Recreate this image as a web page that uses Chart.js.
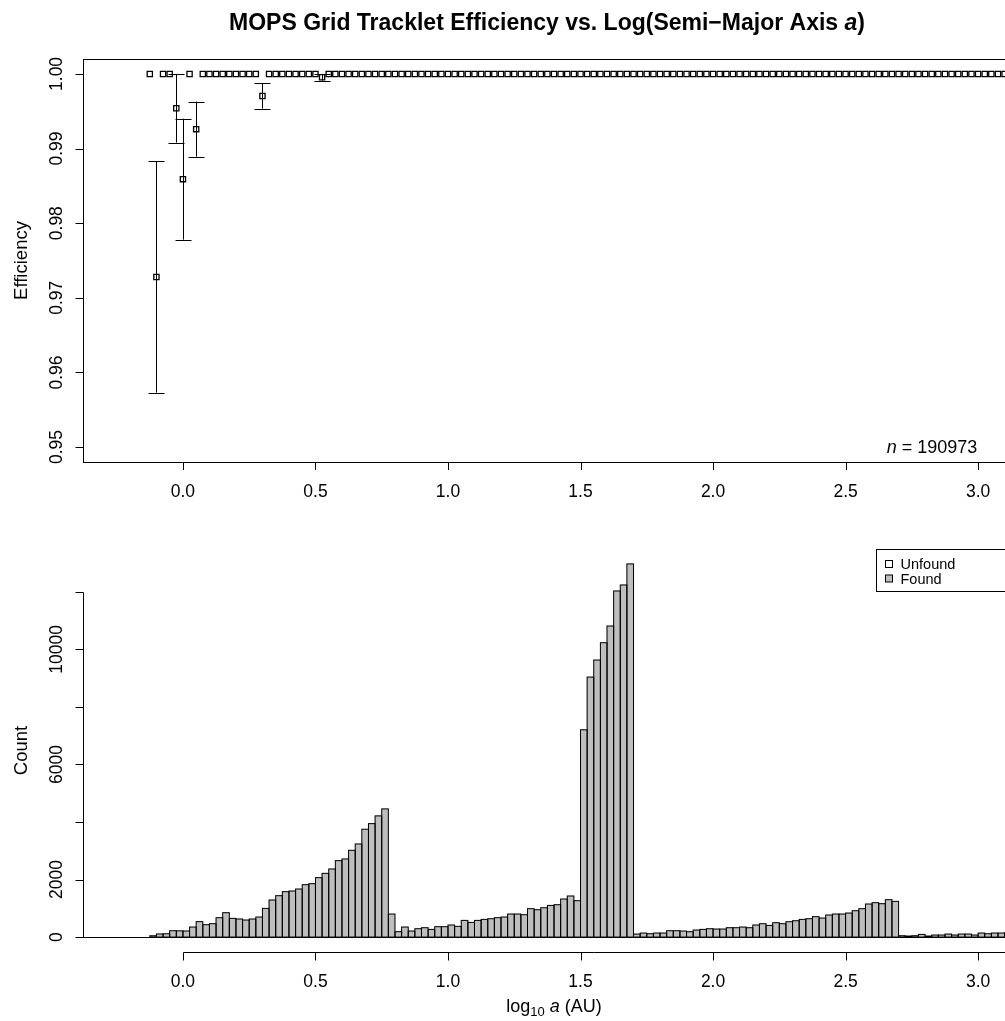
<!DOCTYPE html>
<html>
<head>
<meta charset="utf-8">
<script src="https://cdn.jsdelivr.net/npm/chart.js@4.4.1/dist/chart.umd.min.js"></script>
<style>
    html, body { margin: 0; padding: 0; background: #fff; overflow: hidden; }
    #wrap { position: relative; width: 1005px; height: 1021px; }
    canvas { position: absolute; left: 0; }
</style>
</head>
<body>
<div id="wrap">
    <canvas id="effChart" width="1005" height="520" style="top:0"></canvas>
    <canvas id="histChart" width="1005" height="501" style="top:520px"></canvas>
</div>
<script>
// bin left edges, log10 a (AU)
const binLeft = [
    -0.125, -0.1, -0.075, -0.05, -0.025, 0, 0.025, 0.05, 0.075, 0.1,
    0.125, 0.15, 0.175, 0.2, 0.225, 0.25, 0.275, 0.3, 0.325, 0.35,
    0.375, 0.4, 0.425, 0.45, 0.475, 0.5, 0.525, 0.55, 0.575, 0.6,
    0.625, 0.65, 0.675, 0.7, 0.725, 0.75, 0.775, 0.8, 0.825, 0.85,
    0.875, 0.9, 0.925, 0.95, 0.975, 1.0, 1.025, 1.05, 1.075, 1.1,
    1.125, 1.15, 1.175, 1.2, 1.225, 1.25, 1.275, 1.3, 1.325, 1.35,
    1.375, 1.4, 1.425, 1.45, 1.475, 1.5, 1.525, 1.55, 1.575, 1.6,
    1.625, 1.65, 1.675, 1.7, 1.725, 1.75, 1.775, 1.8, 1.825, 1.85,
    1.875, 1.9, 1.925, 1.95, 1.975, 2.0, 2.025, 2.05, 2.075, 2.1,
    2.125, 2.15, 2.175, 2.2, 2.225, 2.25, 2.275, 2.3, 2.325, 2.35,
    2.375, 2.4, 2.425, 2.45, 2.475, 2.5, 2.525, 2.55, 2.575, 2.6,
    2.625, 2.65, 2.675, 2.7, 2.725, 2.75, 2.775, 2.8, 2.825, 2.85,
    2.875, 2.9, 2.925, 2.95, 2.975, 3.0, 3.025, 3.05, 3.075, 3.1
];
const binWidth = 0.025;

const found = [
    45, 107, 115, 220, 216, 210, 348, 536, 430, 465,
    673, 847, 650, 627, 592, 627, 696, 997, 1288, 1438,
    1578, 1600, 1670, 1821, 1856, 2065, 2215, 2366, 2656, 2714,
    3016, 3236, 3748, 3943, 4211, 4454, 800, 186, 348, 209,
    290, 325, 267, 360, 360, 418, 372, 580, 510, 580,
    615, 638, 673, 696, 800, 800, 777, 986, 951, 1020,
    1100, 1125, 1322, 1427, 1264, 7204, 9036, 9628, 10231, 10811,
    12029, 12238, 12969, 104, 139, 116, 139, 139, 220, 220,
    209, 186, 244, 267, 290, 278, 278, 325, 325, 348,
    325, 418, 464, 406, 499, 464, 534, 568, 615, 638,
    708, 661, 766, 800, 800, 835, 916, 986, 1148, 1195,
    1160, 1299, 1241, 46, 35, 46, 93, 35, 70, 70,
    104, 70, 104, 104, 70, 139, 116, 139, 139, 160
];
const unfound = [
    0, 3, 0, 0, 1, 3, 0, 4, 0, 0,
    0, 0, 0, 0, 0, 0, 0, 3, 0, 0,
    0, 0, 0, 0, 0, 0, 1, 0, 0, 0,
    0, 0, 0, 0, 0, 0, 0, 0, 0, 0,
    0, 0, 0, 0, 0, 0, 0, 0, 0, 0,
    0, 0, 0, 0, 0, 0, 0, 0, 0, 0,
    0, 0, 0, 0, 0, 0, 0, 0, 0, 0,
    0, 0, 0, 0, 0, 0, 0, 0, 0, 0,
    0, 0, 0, 0, 0, 0, 0, 0, 0, 0,
    0, 0, 0, 0, 0, 0, 0, 0, 0, 0,
    0, 0, 0, 0, 0, 0, 0, 0, 0, 0,
    0, 0, 0, 0, 0, 0, 0, 0, 0, 0,
    0, 0, 0, 0, 0, 0, 0, 0, 0, 0
];

const effValue = [
    1, 0.9728, 1, 1, 0.9954, 0.9859, 1, 0.9926, 1, 1,
    1, 1, 1, 1, 1, 1, 1, 0.99705, 1, 1,
    1, 1, 1, 1, 1, 1, 0.99955, 1, 1, 1,
    1, 1, 1, 1, 1, 1, 1, 1, 1, 1,
    1, 1, 1, 1, 1, 1, 1, 1, 1, 1,
    1, 1, 1, 1, 1, 1, 1, 1, 1, 1,
    1, 1, 1, 1, 1, 1, 1, 1, 1, 1,
    1, 1, 1, 1, 1, 1, 1, 1, 1, 1,
    1, 1, 1, 1, 1, 1, 1, 1, 1, 1,
    1, 1, 1, 1, 1, 1, 1, 1, 1, 1,
    1, 1, 1, 1, 1, 1, 1, 1, 1, 1,
    1, 1, 1, 1, 1, 1, 1, 1, 1, 1,
    1, 1, 1, 1, 1, 1, 1, 1, 1, 1
];
const effErr = [
    0, 0.0155, 0, 0, 0.0046, 0.0081, 0, 0.0037, 0, 0,
    0, 0, 0, 0, 0, 0, 0, 0.0017, 0, 0,
    0, 0, 0, 0, 0, 0, 0.00045, 0, 0, 0,
    0, 0, 0, 0, 0, 0, 0, 0, 0, 0,
    0, 0, 0, 0, 0, 0, 0, 0, 0, 0,
    0, 0, 0, 0, 0, 0, 0, 0, 0, 0,
    0, 0, 0, 0, 0, 0, 0, 0, 0, 0,
    0, 0, 0, 0, 0, 0, 0, 0, 0, 0,
    0, 0, 0, 0, 0, 0, 0, 0, 0, 0,
    0, 0, 0, 0, 0, 0, 0, 0, 0, 0,
    0, 0, 0, 0, 0, 0, 0, 0, 0, 0,
    0, 0, 0, 0, 0, 0, 0, 0, 0, 0,
    0, 0, 0, 0, 0, 0, 0, 0, 0, 0
];

const xTicks = [0, 0.5, 1, 1.5, 2, 2.5, 3];
const xTickLabels = ["0.0", "0.5", "1.0", "1.5", "2.0", "2.5", "3.0"];
const effTicks = [0.95, 0.96, 0.97, 0.98, 0.99, 1.00];
const effTickLabels = ["0.95", "0.96", "0.97", "0.98", "0.99", "1.00"];
const countTicks = [0, 2000, 4000, 6000, 8000, 10000, 12000];
const countTickLabels = ["0", "2000", "", "6000", "", "10000", ""];
const nTotal = "190973";

const FONT = '"Liberation Sans", Arial, Helvetica, sans-serif';
const LBL = "17.5px " + FONT;
const xMin = -0.377, xMax = 3.1015;
const TICK = 8;

// draw a line of text made of differently styled pieces
function drawRuns(ctx, runs, x, y, align) {
    let w = 0;
    runs.forEach(r => { ctx.font = r.font; r.w = ctx.measureText(r.text).width; w += r.w; });
    let cx = align === "center" ? x - w / 2 : align === "right" ? x - w : x;
    ctx.textAlign = "left";
    ctx.textBaseline = "alphabetic";
    runs.forEach(r => { ctx.font = r.font; ctx.fillText(r.text, cx, y + (r.dy || 0)); cx += r.w; });
}

function rotatedLabel(ctx, text, x, y) {
    ctx.save();
    ctx.translate(x, y);
    ctx.rotate(-Math.PI / 2);
    ctx.textAlign = "center";
    ctx.textBaseline = "alphabetic";
    ctx.fillText(text, 0, 0);
    ctx.restore();
}

/** error bars for the efficiency points **/
const errorBars = {
    id: "errorBars",
    afterDatasetsDraw(chart) {
        const { ctx, scales: { x, y } } = chart;
        ctx.save();
        ctx.strokeStyle = "#000";
        ctx.lineWidth = 1;
        ctx.beginPath();
        effErr.forEach((e, i) => {
            if (!e) return;
            const px = Math.round(x.getPixelForValue(binLeft[i])) + 0.5;
            const top = y.getPixelForValue(effValue[i] + e);
            const bot = y.getPixelForValue(effValue[i] - e);
            ctx.moveTo(px, top); ctx.lineTo(px, bot);
            ctx.moveTo(px - 8, Math.round(top) + 0.5); ctx.lineTo(px + 8, Math.round(top) + 0.5);
            ctx.moveTo(px - 8, Math.round(bot) + 0.5); ctx.lineTo(px + 8, Math.round(bot) + 0.5);
        });
        ctx.stroke();
        ctx.restore();
    }
};

/** frame, axes and texts of the top panel **/
const effAxes = {
    id: "effAxes",
    afterDraw(chart) {
        const { ctx, chartArea: a, scales: { x, y } } = chart;
        ctx.save();
        ctx.strokeStyle = "#000";
        ctx.fillStyle = "#000";
        ctx.lineWidth = 1;
        ctx.strokeRect(a.left + 0.5, a.top + 0.5, a.right - a.left + 4, a.bottom - a.top);

        ctx.beginPath();
        xTicks.forEach(v => {
            const px = Math.round(x.getPixelForValue(v)) + 0.5;
            ctx.moveTo(px, a.bottom); ctx.lineTo(px, a.bottom + TICK);
        });
        effTicks.forEach(v => {
            const py = Math.round(y.getPixelForValue(v)) + 0.5;
            ctx.moveTo(a.left + 0.5, py); ctx.lineTo(a.left + 0.5 - TICK, py);
        });
        ctx.stroke();

        ctx.font = LBL;
        ctx.textAlign = "center";
        xTicks.forEach((v, i) => ctx.fillText(xTickLabels[i], x.getPixelForValue(v), a.bottom + 35));
        effTicks.forEach((v, i) => rotatedLabel(ctx, effTickLabels[i], 62, y.getPixelForValue(v)));

        ctx.font = "18.5px " + FONT;
        rotatedLabel(ctx, "Efficiency", 27, (a.top + a.bottom) / 2);

        drawRuns(ctx, [
            { text: "n", font: "italic 18px " + FONT },
            { text: " = " + nTotal, font: "18px " + FONT }
        ], x.getPixelForValue(2.997), y.getPixelForValue(0.95) + 6, "right");

        const tf = "bold 23px " + FONT;
        drawRuns(ctx, [
            { text: "MOPS Grid Tracklet Efficiency vs. Log(Semi\u2212Major Axis ", font: tf },
            { text: "a", font: "italic bold 23px " + FONT },
            { text: ")", font: tf }
        ], 547, 30, "center");
        ctx.restore();
    }
};

/** R style outlines round each bar **/
const barOutline = {
    id: "barOutline",
    afterDatasetsDraw(chart) {
        const { ctx } = chart;
        ctx.save();
        ctx.strokeStyle = "#000";
        ctx.lineWidth = 1;
        chart.data.datasets.forEach((ds, di) => {
            chart.getDatasetMeta(di).data.forEach(el => {
                const p = el.getProps(["x", "y", "base", "width"], true);
                if (Math.abs(p.base - p.y) < 0.3) return;
                ctx.strokeRect(p.x - p.width / 2, p.y, p.width, p.base - p.y);
            });
        });
        ctx.restore();
    }
};

/** axes, legend and texts of the histogram panel **/
const histAxes = {
    id: "histAxes",
    afterDraw(chart) {
        const { ctx, chartArea: a, scales: { x, y } } = chart;
        ctx.save();
        ctx.strokeStyle = "#000";
        ctx.fillStyle = "#000";
        ctx.lineWidth = 1;

        const y0 = Math.round(y.getPixelForValue(0)) + 0.5;
        const yTop = Math.round(y.getPixelForValue(countTicks[countTicks.length - 1])) + 0.5;
        const ax = a.left + 0.5;
        const ay = Math.round(a.bottom) + 0.5;
        ctx.beginPath();
        // zero line under the bars
        ctx.moveTo(a.left, y0); ctx.lineTo(a.right, y0);
        // y axis
        ctx.moveTo(ax, y0); ctx.lineTo(ax, yTop);
        countTicks.forEach(v => {
            const py = Math.round(y.getPixelForValue(v)) + 0.5;
            ctx.moveTo(ax, py); ctx.lineTo(ax - TICK, py);
        });
        // x axis
        ctx.moveTo(Math.round(x.getPixelForValue(xTicks[0])) + 0.5, ay); ctx.lineTo(a.right + 2, ay);
        xTicks.forEach(v => {
            const px = Math.round(x.getPixelForValue(v)) + 0.5;
            ctx.moveTo(px, ay); ctx.lineTo(px, ay + TICK);
        });
        ctx.stroke();

        ctx.font = LBL;
        ctx.textAlign = "center";
        xTicks.forEach((v, i) => ctx.fillText(xTickLabels[i], x.getPixelForValue(v), a.bottom + 35));
        countTicks.forEach((v, i) => {
            if (countTickLabels[i]) rotatedLabel(ctx, countTickLabels[i], 62, y.getPixelForValue(v));
        });
        ctx.font = "18.5px " + FONT;
        rotatedLabel(ctx, "Count", 27, (a.top + a.bottom) / 2);

        const f = "18px " + FONT;
        drawRuns(ctx, [
            { text: "log", font: f },
            { text: "10", font: "13px " + FONT, dy: 4 },
            { text: " ", font: f },
            { text: "a", font: "italic 18px " + FONT },
            { text: " (AU)", font: f }
        ], 554, 492, "center");

        // legend, top right corner of the panel
        const lx = 876.5, ly = Math.round(a.top) + 0.5;
        ctx.strokeRect(lx, ly, 200, 42);
        const fills = ["#ffffff", "#bebebe"];
        const names = [chart.data.datasets[1].label, chart.data.datasets[0].label];
        ctx.font = "14.5px " + FONT;
        ctx.textAlign = "left";
        names.forEach((n, i) => {
            const sy = ly + 11 + i * 14.5;
            ctx.fillStyle = fills[i];
            ctx.fillRect(lx + 9, sy, 7, 7);
            ctx.strokeRect(lx + 9, sy, 7, 7);
            ctx.fillStyle = "#000";
            ctx.fillText(n, lx + 24, sy + 8.5);
        });
        ctx.restore();
    }
};

const noUi = { legend: { display: false }, tooltip: { enabled: false }, title: { display: false } };

new Chart(document.getElementById("effChart"), {
    type: "scatter",
    data: {
        datasets: [{
            label: "Efficiency",
            data: binLeft.map((b, i) => ({ x: b, y: effValue[i] })),
            pointStyle: "rect",
            pointRadius: 3.7,
            pointHoverRadius: 3.7,
            borderColor: "#000",
            backgroundColor: "rgba(255,255,255,0)",
            borderWidth: 1.3
        }]
    },
    options: {
        responsive: false,
        animation: false,
        events: [],
        layout: { autoPadding: false, padding: { left: 83, top: 59, right: 0, bottom: 58 } },
        plugins: noUi,
        scales: {
            x: { type: "linear", display: false, min: xMin, max: xMax },
            y: { type: "linear", display: false, min: 0.948, max: 1.002 }
        }
    },
    plugins: [errorBars, effAxes]
});

new Chart(document.getElementById("histChart"), {
    type: "bar",
    data: {
        datasets: [
            {
                label: "Found",
                data: binLeft.map((b, i) => ({ x: b + binWidth / 2, y: found[i] })),
                backgroundColor: "#bebebe",
                borderWidth: 0,
                barPercentage: 1,
                categoryPercentage: 1
            },
            {
                label: "Unfound",
                data: binLeft.map((b, i) => ({ x: b + binWidth / 2, y: unfound[i] })),
                backgroundColor: "#ffffff",
                borderWidth: 0,
                barPercentage: 1,
                categoryPercentage: 1
            }
        ]
    },
    options: {
        responsive: false,
        animation: false,
        events: [],
        layout: { autoPadding: false, padding: { left: 83, top: 29, right: 0, bottom: 69 } },
        plugins: noUi,
        scales: {
            x: { type: "linear", display: false, min: xMin, max: xMax, stacked: true, offset: false },
            y: { type: "linear", display: false, min: -519, max: 13488, stacked: true }
        }
    },
    plugins: [barOutline, histAxes]
});
</script>
</body>
</html>
